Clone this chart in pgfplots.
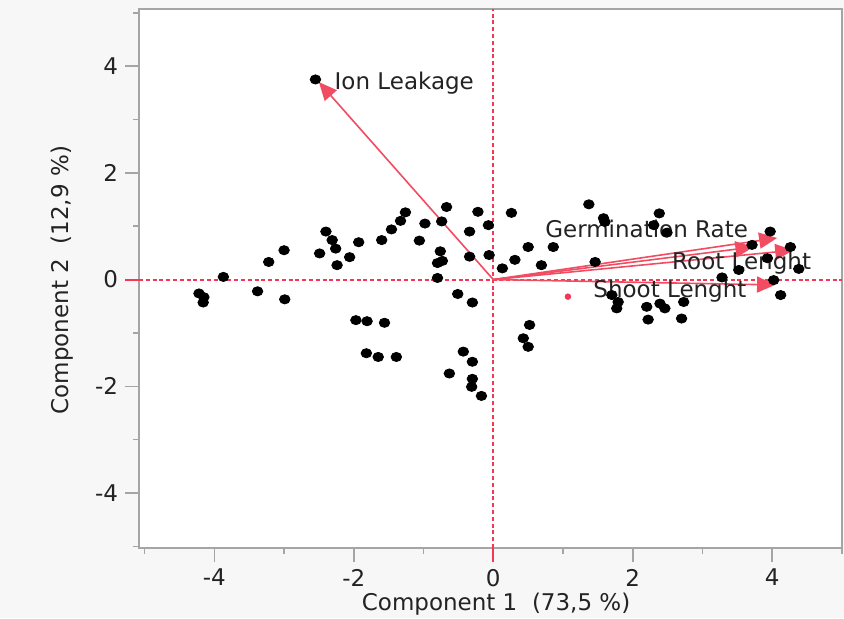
\documentclass[border=0pt]{standalone}
\usepackage{fontspec}
\setmainfont{DejaVu Sans}
\usepackage{pgfplots}
\pgfplotsset{compat=1.18}
\usetikzlibrary{arrows.meta}

\definecolor{bggray}{RGB}{247,247,247}
\definecolor{framegray}{RGB}{165,165,165}
\definecolor{refred}{RGB}{245,55,85}
\definecolor{arrred}{RGB}{242,76,98}
\definecolor{txt}{RGB}{35,35,35}

\pgfplotstableread{
x y
-4.22 -0.26
-4.15 -0.33
-4.16 -0.43
-3.87 0.05
-3.38 -0.22
-2.99 -0.37
-3.22 0.33
-3.00 0.55
-2.49 0.49
-2.40 0.90
-2.31 0.74
-2.26 0.58
-2.24 0.27
-2.06 0.42
-1.93 0.70
-1.60 0.74
-1.46 0.94
-1.33 1.10
-1.26 1.26
-0.98 1.05
-1.06 0.73
-0.74 1.09
-0.67 1.36
-0.76 0.53
-0.80 0.31
-0.73 0.35
-0.80 0.03
-0.51 -0.27
-0.30 -0.43
-0.34 0.90
-0.22 1.27
-0.07 1.02
-0.34 0.43
-0.06 0.46
0.13 0.21
-1.97 -0.76
-1.81 -0.78
-1.56 -0.81
-1.82 -1.38
-1.65 -1.45
-1.39 -1.45
-0.43 -1.35
-0.30 -1.54
-0.63 -1.76
-0.30 -1.86
-0.31 -2.01
-0.17 -2.18
0.26 1.25
0.31 0.37
0.50 0.61
0.69 0.27
0.86 0.61
1.37 1.41
1.58 1.15
1.60 1.08
1.46 0.33
2.38 1.24
2.30 1.02
2.49 0.88
3.52 0.18
3.28 0.04
3.93 0.40
4.38 0.20
4.02 -0.01
4.12 -0.29
1.70 -0.29
1.79 -0.42
1.77 -0.54
2.20 -0.51
2.22 -0.75
2.39 -0.45
2.46 -0.54
2.73 -0.42
2.70 -0.73
0.52 -0.85
0.43 -1.10
0.50 -1.26
3.97 0.90
4.26 0.61
3.71 0.65
-2.55 3.75
}\scores

\begin{document}
\begin{tikzpicture}
\fill[bggray] (0,0) rectangle (422pt,309pt);
\useasboundingbox (0,0) rectangle (422pt,309pt);
\begin{axis}[
  at={(69.5pt,35pt)}, anchor=south west,
  scale only axis, width=351.5pt, height=269.5pt,
  xmin=-5.08, xmax=5.0, ymin=-5.03, ymax=5.07,
  axis background/.style={fill=white},
  axis line style={framegray, line width=0.8pt},
  xtick={-4,-2,0,2,4}, ytick={-4,-2,0,2,4},
  minor xtick={-5,-3,-1,1,3,5}, minor ytick={-5,-3,-1,1,3,5},
  tick align=outside, xtick pos=bottom, ytick pos=left,
  major tick length=7pt, minor tick length=3pt,
  every tick/.style={framegray, line width=0.8pt},
  extra x ticks={0}, extra y ticks={0},
  extra x tick labels={}, extra y tick labels={},
  extra tick style={major tick style={refred, line width=1pt}},
  /pgf/number format/assume math mode=true,
  tick label style={font=\fontsize{11.5}{13}\selectfont, text=txt},
  label style={font=\fontsize{11.5}{13}\selectfont, text=txt},
  xlabel={Component 1\ \ (73,5 \%)},
  ylabel={Component 2\ \ (12,9 \%)},
  xlabel style={at={(axis description cs:0.508,-0.104)}, anchor=center},
  ylabel style={at={(axis description cs:-0.1095,0.497)}, anchor=center},
  clip=true,
]
% reference lines through the origin
\addplot[refred, line width=1pt, dash pattern=on 2pt off 1.4pt] coordinates {(0,-5.03) (0,5.07)};
\addplot[refred, line width=1pt, dash pattern=on 2pt off 1.4pt] coordinates {(-5.08,0) (5.0,0)};

% scores
\addplot[only marks, mark=*, mark size=2.3pt, black, mark options={xscale=1.15}] table {\scores};
\addplot[only marks, mark=*, mark size=1.4pt, refred] coordinates {(1.07,-0.32)};

% loadings
\addplot[arrred, line width=0.8pt, -{Triangle[length=9pt,width=8pt]}] coordinates {(0,0) (-2.50,3.70)};
\addplot[arrred, line width=0.8pt, -{Triangle[length=9pt,width=8pt]}] coordinates {(0,0) (4.07,0.78)};
\addplot[arrred, line width=0.8pt, -{Triangle[length=9pt,width=8pt]}] coordinates {(0,0) (3.73,0.61)};
\addplot[arrred, line width=0.8pt, -{Triangle[length=9pt,width=8pt]}] coordinates {(0,0) (4.30,0.55)};
\addplot[arrred, line width=0.8pt, -{Triangle[length=9pt,width=8pt]}] coordinates {(0,0) (4.04,-0.10)};

\begin{scope}[every node/.style={anchor=west, inner sep=0pt, text=txt, font=\fontsize{11.5}{13}\selectfont}]
\node at (axis cs:-2.28,3.68) {Ion Leakage};
\node at (axis cs:0.74,0.95) {Germination Rate};
\node at (axis cs:2.56,0.31) {Root Lenght};
\node at (axis cs:1.43,-0.215) {Shoot Lenght};
\end{scope}
\end{axis}
\end{tikzpicture}
\end{document}
